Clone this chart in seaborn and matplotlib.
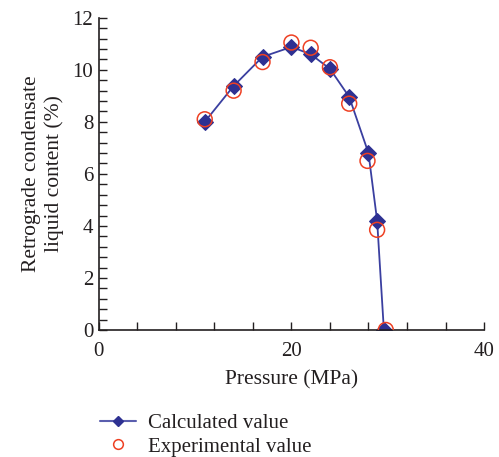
import matplotlib
matplotlib.use('Agg')
import matplotlib.pyplot as plt
import seaborn as sns
import pandas as pd
from matplotlib.ticker import MultipleLocator
from matplotlib.lines import Line2D

# data
calc_pressure = [11, 14, 17, 20, 22, 24, 26, 28, 28.9, 29.6]
calc_content = [8.0, 9.38, 10.5, 10.88, 10.6, 10.04, 8.96, 6.8, 4.2, 0.0]
exp_pressure = [11, 14, 17, 20, 22, 24, 26, 27.9, 28.9, 29.8]
exp_content = [8.1, 9.2, 10.3, 11.05, 10.85, 10.1, 8.7, 6.5, 3.85, 0.0]

calc = pd.DataFrame({'Pressure': calc_pressure, 'Content': calc_content})
exp = pd.DataFrame({'Pressure': exp_pressure, 'Content': exp_content})

sns.set_style('ticks')
plt.rcParams['font.family'] = ['Liberation Serif', 'DejaVu Serif']

fig = plt.figure(figsize=(4.99, 4.57), dpi=100)
ax = fig.add_axes([0.198, 0.278, 0.772, 0.683])

blue = '#2E3192'
red = '#EE4023'
ink = '#231F20'

sns.lineplot(data=calc, x='Pressure', y='Content', ax=ax, color='#3A3FA0',
             linewidth=1.3, marker='D', markersize=8, markerfacecolor=blue,
             markeredgecolor=blue, sort=False, legend=False)
sns.scatterplot(data=exp, x='Pressure', y='Content', ax=ax, marker='o',
                s=115, facecolor='none', edgecolor=red, linewidth=1.1,
                zorder=3, legend=False)

ax.set_xlim(0, 40)
ax.set_ylim(0, 12)
ax.xaxis.set_major_locator(MultipleLocator(20))
ax.xaxis.set_minor_locator(MultipleLocator(4))
ax.yaxis.set_major_locator(MultipleLocator(2))
ax.yaxis.set_minor_locator(MultipleLocator(0.4))
ax.tick_params(which='both', direction='in', width=1, length=6, colors=ink,
               labelsize=15, pad=4)
ax.tick_params(axis='x', which='both', pad=9)
for s in ['top', 'right']:
    ax.spines[s].set_visible(False)
for s in ['left', 'bottom']:
    ax.spines[s].set_linewidth(1.2)
    ax.spines[s].set_color(ink)

ax.set_xlabel('Pressure (MPa)', fontsize=15.5, labelpad=6, color=ink)
ax.set_ylabel('Retrograde condensate\nliquid content (%)', fontsize=15.5,
              labelpad=6, color=ink)

handles = [
    Line2D([], [], color='#5A5EAE', linewidth=1.5, marker='D', markersize=5,
           markerfacecolor=blue, markeredgecolor=blue),
    Line2D([], [], linestyle='none', marker='o', markersize=7,
           markerfacecolor='none', markeredgecolor=red, markeredgewidth=1.1),
]
fig.legend(handles, ['Calculated value', 'Experimental value'], loc='upper left',
           bbox_to_anchor=(0.184, 0.114), frameon=False, fontsize=15,
           handlelength=1.7, handletextpad=0.6, labelspacing=0.2,
           borderaxespad=0, labelcolor=ink)

fig.savefig('out.png', dpi=100)
